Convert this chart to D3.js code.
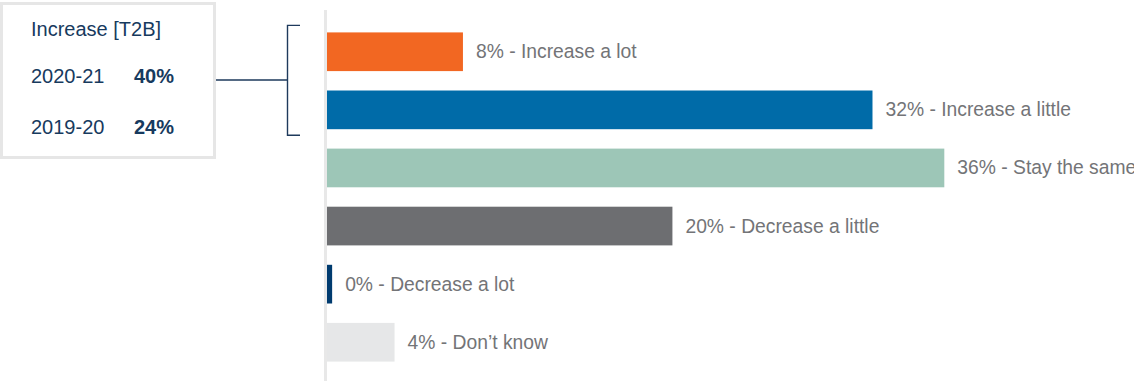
<!DOCTYPE html>
<html>
<head>
<meta charset="utf-8">
<script src="https://cdn.jsdelivr.net/npm/d3@7"></script>
<style>
  html, body { margin: 0; padding: 0; background: #fff; }
  svg { display: block; font-family: "Liberation Sans", Arial, sans-serif; }
</style>
</head>
<body>
<div id="chart"></div>
<script>
// Dados
const categories = ["Increase a lot", "Increase a little", "Stay the same", "Decrease a little", "Decrease a lot", "Don\u2019t know"];
const values = [7.95, 31.9, 36.1, 20.2, 0.3, 3.95];
const barColors = ["#f26722", "#006ba8", "#9dc6b7", "#6d6e71", "#003b6f", "#e6e7e8"];

const legendTitle = "Increase [T2B]";
const legendYears = ["2020-21", "2019-20"];
const legendValues = [40, 24];

const width = 1134, height = 381;

const svg = d3.select("#chart")
    .append("svg")
    .attr("width", width)
    .attr("height", height);

// Escalas
const x = d3.scaleLinear()
    .domain([0, 40])
    .range([327, 327 + 684]);

const y = d3.scaleBand()
    .domain(categories)
    .range([13, 381])
    .padding(0.334);

// Linha do eixo
svg.append("line")
    .attr("x1", 325.5).attr("x2", 325.5)
    .attr("y1", 10).attr("y2", height)
    .attr("stroke", "#e8e8e8")
    .attr("stroke-width", 3);

// Barras
svg.selectAll(".bar")
    .data(categories)
    .enter()
    .append("rect")
    .attr("class", "bar")
    .attr("x", x(0))
    .attr("y", d => y(d))
    .attr("width", (d, i) => x(values[i]) - x(0))
    .attr("height", y.bandwidth())
    .attr("fill", (d, i) => barColors[i]);

// Labels
svg.selectAll(".label")
    .data(categories)
    .enter()
    .append("text")
    .attr("class", "label")
    .attr("x", (d, i) => x(values[i]) + 13)
    .attr("y", d => y(d) + y.bandwidth() / 2 + 6.5)
    .attr("fill", "#737477")
    .attr("font-size", "19.3px")
    .text((d, i) => `${Math.round(values[i])}% - ${d}`);

// Caixa da legenda
const legend = svg.append("g");

legend.append("rect")
    .attr("x", 1.5).attr("y", 3.5)
    .attr("width", 213).attr("height", 154)
    .attr("fill", "#fff")
    .attr("stroke", "#e6e6e6")
    .attr("stroke-width", 3);

legend.append("text")
    .attr("x", 31).attr("y", 36)
    .attr("fill", "#173a5e")
    .attr("font-size", "20px")
    .text(legendTitle);

const rowY = [83, 134];
legendYears.forEach((yr, i) => {
    legend.append("text")
        .attr("x", 31).attr("y", rowY[i])
        .attr("fill", "#173a5e")
        .attr("font-size", "20px")
        .text(yr);
    legend.append("text")
        .attr("x", 134).attr("y", rowY[i])
        .attr("fill", "#173a5e")
        .attr("font-size", "20px")
        .attr("font-weight", "bold")
        .text(legendValues[i] + "%");
});

// Conector e colchete (Increase a lot + Increase a little)
const bracketTop = y(categories[0]) - 7;
const bracketBottom = y(categories[1]) + y.bandwidth() + 6;
const bracketMid = 80;

svg.append("path")
    .attr("d", `M216,${bracketMid}H287.5M300,${bracketTop}H287.5V${bracketBottom}H300`)
    .attr("fill", "none")
    .attr("stroke", "#1e3a5c")
    .attr("stroke-width", 1.4);
</script>
</body>
</html>
